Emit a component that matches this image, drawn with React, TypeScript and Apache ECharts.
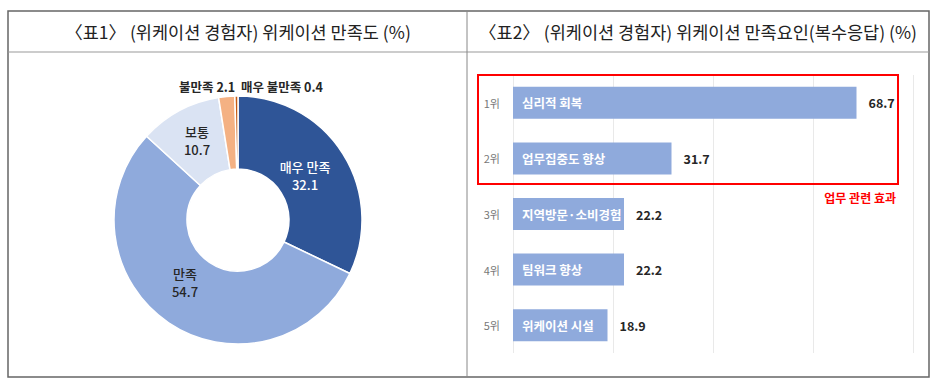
import React, { useEffect, useRef } from "react";
import * as echarts from "echarts";

const pieNames = ["매우 만족", "만족", "보통", "불만족", "매우 불만족"];
const pieValues = [32.1, 54.7, 10.7, 2.1, 0.4];
const pieColors = ["#2F5597", "#8FAADC", "#DAE3F3", "#F4B183", "#C55A11"];

const rankLabels = ["1위", "2위", "3위", "4위", "5위"];
const factorNames = ["심리적 회복", "업무집중도 향상", "지역방문·소비경험", "팀워크 향상", "위케이션 시설"];
const factorValues = [68.7, 31.7, 22.2, 22.2, 18.9];

const leftTitle = "〈표1〉 (위케이션 경험자) 위케이션 만족도 (%)";
const rightTitle = "〈표2〉 (위케이션 경험자) 위케이션 만족요인(복수응답) (%)";
const annotation = "업무 관련 효과";

const FONT = "'Noto Sans CJK KR', 'Noto Sans', sans-serif";

export default function App() {
  const ref = useRef<HTMLDivElement>(null);
  useEffect(() => {
    if (!ref.current) return;
    const chart = echarts.init(ref.current, undefined, { renderer: "svg" });
    const txt = (x: number, y: number, text: string, fill: string, weight = 500, size = 13) => ({
      type: "text",
      x,
      y,
      z: 100,
      style: {
        text,
        fill,
        font: `${weight} ${size}px ${FONT}`,
        align: "center",
        verticalAlign: "middle",
      },
    });
    const pieLabel = (i: number, x: number, y: number, fill: string) => [
      txt(x, y - 9, pieNames[i], fill),
      txt(x, y + 9, String(pieValues[i]), fill),
    ];
    chart.setOption({
      animation: false,
      textStyle: { fontFamily: FONT },
      graphic: [
        { type: "rect", z: 100, shape: { x: 8, y: 11, width: 921, height: 366 }, style: { fill: "none", stroke: "#666", lineWidth: 1.5 } },
        { type: "line", z: 100, shape: { x1: 8, y1: 52, x2: 929, y2: 52 }, style: { stroke: "#999", lineWidth: 1 } },
        { type: "line", z: 100, shape: { x1: 467, y1: 11, x2: 467, y2: 377 }, style: { stroke: "#888", lineWidth: 1 } },
        txt(238, 31, leftTitle, "#222", 400, 17.5),
        txt(698, 31, rightTitle, "#222", 400, 17.5),
        ...pieLabel(0, 305, 175, "#fff"),
        ...pieLabel(1, 185, 282, "#262626"),
        ...pieLabel(2, 197, 140, "#262626"),
        txt(251, 86, `${pieNames[3]} ${pieValues[3]}  ${pieNames[4]} ${pieValues[4]}`, "#262626", 700, 12.5),
        { type: "rect", z: 100, shape: { x: 478, y: 75, width: 420, height: 109 }, style: { fill: "none", stroke: "#FF0000", lineWidth: 2 } },
        {
          type: "text",
          z: 100,
          x: 896,
          y: 197,
          style: { text: annotation, fill: "#FF0000", font: `700 12px ${FONT}`, align: "right", verticalAlign: "middle" },
        },
      ],
      grid: { left: 513, right: 24, top: 75, bottom: 32 },
      xAxis: {
        type: "value",
        min: 0,
        max: 80,
        interval: 20,
        axisLabel: { show: false },
        axisLine: { show: false },
        axisTick: { show: false },
        splitLine: { show: true, lineStyle: { color: "#E9E9E9", width: 1 } },
      },
      yAxis: {
        type: "category",
        inverse: true,
        data: rankLabels,
        axisLine: { show: false },
        axisTick: { show: false },
        axisLabel: { color: "#777", fontSize: 11, margin: 13 },
      },
      series: [
        {
          type: "pie",
          center: [238, 220],
          radius: [51, 124],
          startAngle: 90,
          clockwise: true,
          label: { show: false },
          labelLine: { show: false },
          itemStyle: { borderColor: "#fff", borderWidth: 1.5 },
          data: pieNames.map((n, i) => ({ name: n, value: pieValues[i], itemStyle: { color: pieColors[i] } })),
        },
        {
          type: "bar",
          data: factorValues,
          barWidth: 32,
          itemStyle: { color: "#8FAADC" },
          label: {
            show: true,
            position: "insideLeft",
            distance: 9,
            color: "#fff",
            fontSize: 12.5,
            fontWeight: "bold",
            formatter: (p: any) => factorNames[p.dataIndex],
          },
        },
        {
          type: "bar",
          data: factorValues,
          barWidth: 32,
          barGap: "-100%",
          itemStyle: { color: "rgba(0,0,0,0)" },
          label: {
            show: true,
            position: "right",
            distance: 12,
            color: "#262626",
            fontSize: 12.5,
            fontWeight: "bold",
            formatter: (p: any) => String(p.value),
          },
        },
      ],
    });
    return () => chart.dispose();
  }, []);
  return <div ref={ref} style={{ position: "fixed", left: 0, top: 0, width: 937, height: 385, background: "#fff" }} />;
}
